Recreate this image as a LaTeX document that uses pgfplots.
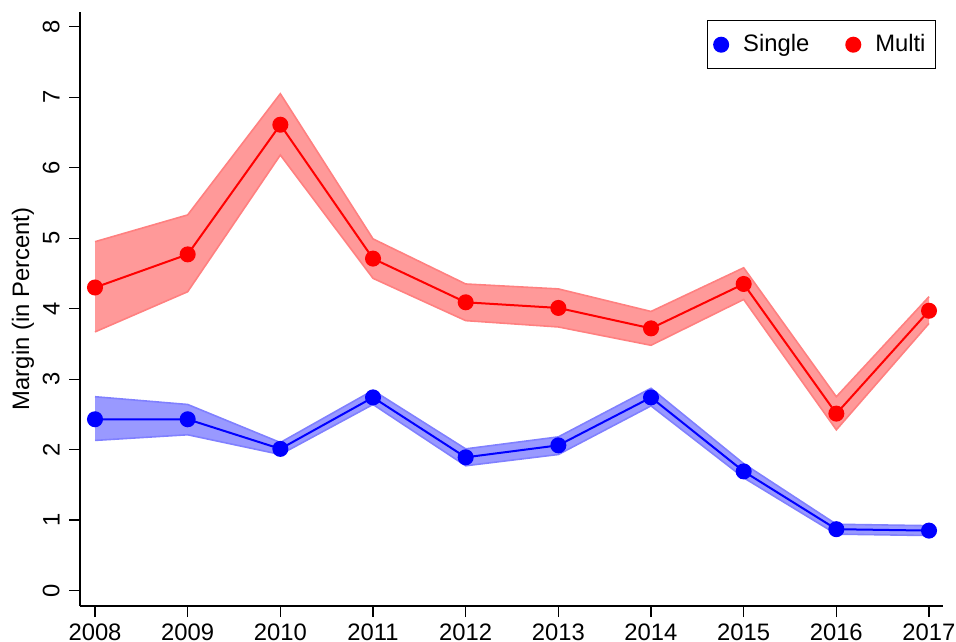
\documentclass[border=0pt]{standalone}
\usepackage{pgfplots}
\pgfplotsset{compat=1.18}
\usepackage{pgfplotstable}
\usepgfplotslibrary{fillbetween}
\usepackage{fontspec}
\setmainfont{Liberation Sans}

\definecolor{singleline}{RGB}{0,0,255}
\definecolor{singleband}{RGB}{153,153,255}
\definecolor{singleedge}{RGB}{128,128,255}
\definecolor{multiline}{RGB}{255,0,0}
\definecolor{multiband}{RGB}{255,153,153}
\definecolor{multiedge}{RGB}{255,128,128}

% Margin estimates with confidence bounds, by year
\pgfplotstableread{
year est  lo   hi
2008 2.43 2.13 2.75
2009 2.43 2.21 2.64
2010 2.01 1.93 2.10
2011 2.74 2.64 2.84
2012 1.89 1.77 2.01
2013 2.06 1.93 2.18
2014 2.74 2.62 2.87
2015 1.69 1.60 1.80
2016 0.87 0.80 0.94
2017 0.85 0.78 0.92
}\singledata

\pgfplotstableread{
year est  lo   hi
2008 4.30 3.67 4.95
2009 4.77 4.24 5.33
2010 6.61 6.18 7.05
2011 4.71 4.43 4.99
2012 4.09 3.83 4.35
2013 4.01 3.74 4.28
2014 3.72 3.48 3.96
2015 4.35 4.13 4.58
2016 2.51 2.28 2.75
2017 3.97 3.79 4.17
}\multidata

\begin{document}
\begin{tikzpicture}[font=\fontsize{11.9bp}{14bp}\selectfont]
\begin{axis}[
  name=ax,
  scale only axis,
  width=431.5bp, height=297bp,
  xmin=2007.838, xmax=2017.151,
  ymin=-0.22, ymax=8.21,
  axis x line*=bottom, axis y line*=left,
  axis line style={-, line width=0.6bp, black},
  xtick={2008,2009,...,2017},
  ytick={0,1,...,8},
  tick align=outside,
  major tick length=5.5bp,
  tick style={black, line width=0.6bp},
  /pgf/number format/assume math mode=true,
  /pgf/number format/1000 sep={},
  xticklabel style={inner sep=0bp, yshift=-3bp},
  yticklabel style={rotate=90, anchor=south, inner sep=0bp, yshift=4.5bp},
  ylabel={Margin (in Percent)},
  every axis y label/.style={at={(rel axis cs:0,0.5)}, xshift=-28.5bp, rotate=90, anchor=center},
  legend columns=2,
  legend style={at={(rel axis cs:0.992,0.9865)}, anchor=north east,
    draw=black, line width=0.6bp, inner xsep=3bp, inner ysep=5bp,
    /tikz/every odd column/.append style={column sep=5bp},
    /tikz/every even column/.append style={column sep=16bp}},
  legend image code/.code={\fill[#1] (0bp,0bp) circle (3.5bp);},
  clip=false,
]
% confidence bands
\addplot[name path=slo, draw=singleedge, line width=0.8bp, forget plot] table[x=year, y=lo]{\singledata};
\addplot[name path=shi, draw=singleedge, line width=0.8bp, forget plot] table[x=year, y=hi]{\singledata};
\addplot[singleband, forget plot] fill between[of=slo and shi];
\addplot[name path=mlo, draw=multiedge, line width=0.8bp, forget plot] table[x=year, y=lo]{\multidata};
\addplot[name path=mhi, draw=multiedge, line width=0.8bp, forget plot] table[x=year, y=hi]{\multidata};
\addplot[multiband, forget plot] fill between[of=mlo and mhi];
% point estimates
\addplot[singleline, line width=1bp, mark=*, mark size=3.5bp,
  mark options={fill=singleline, draw=singleline}] table[x=year, y=est]{\singledata};
\addlegendentry{Single}
\addplot[multiline, line width=1bp, mark=*, mark size=3.5bp,
  mark options={fill=multiline, draw=multiline}] table[x=year, y=est]{\multidata};
\addlegendentry{Multi}
\end{axis}
% page margins around the plot area
\pgfresetboundingbox
\path[use as bounding box] ([shift={(-40bp,-18bp)}]ax.south west) rectangle ([shift={(6.5bp,6bp)}]ax.north east);
\end{tikzpicture}
\end{document}
